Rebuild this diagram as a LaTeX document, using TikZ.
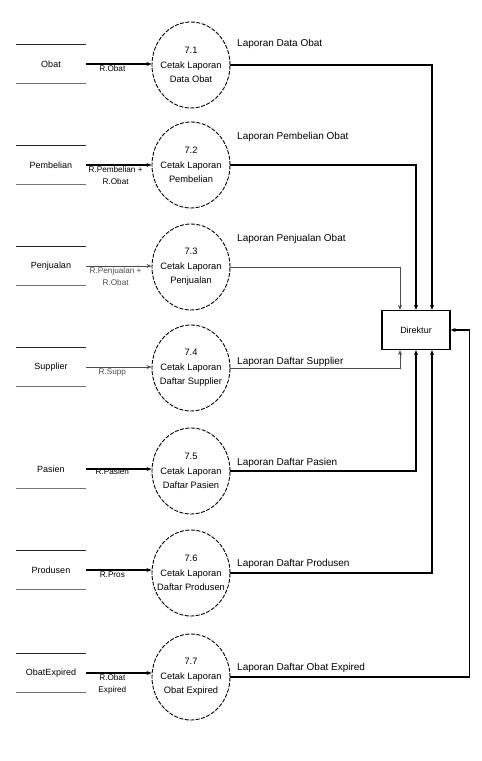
\documentclass[tikz,border=0pt]{standalone}
\usepackage{fontspec}
\setmainfont{Liberation Sans}
\usetikzlibrary{shapes.geometric,arrows.meta}

\tikzset{
  proc/.style={ellipse, draw, line width=0.9pt, dash pattern=on 4pt off 1.5pt,
    minimum width=78pt, minimum height=86pt, inner xsep=-15pt, inner ysep=0pt,
    align=center, font=\fontsize{9.3}{14.5}\selectfont},
  store/.style={minimum width=70pt, minimum height=38pt, inner sep=0pt,
    font=\fontsize{9}{10}\selectfont},
  storetop/.style={line width=1.3pt, black!85},
  storebot/.style={line width=1.1pt, black!55},
  ent/.style={draw, line width=1.3pt, minimum width=68pt, minimum height=39pt,
    font=\fontsize{9}{10}\selectfont},
  flow/.style={line width=1.3pt, -{Stealth[length=5pt,width=4pt]}},
  thinflow/.style={line width=0.7pt, black!70, -{Stealth[length=5pt,width=4pt]}},
  inlbl/.style={font=\fontsize{8.2}{12}\selectfont, align=center, inner sep=1pt},
  outlbl/.style={font=\fontsize{10}{11}\selectfont, anchor=west, inner sep=0pt},
}

\begin{document}
\begin{tikzpicture}[x=1pt,y=-1pt]
\useasboundingbox (0,0) rectangle (482,761);

% data stores
\node[store] (s1) at (51,64)  {Obat};
\node[store] (s2) at (51,165) {Pembelian};
\node[store] (s3) at (51,266) {Penjualan};
\node[store] (s4) at (51,367) {Supplier};
\node[store] (s5) at (51,469) {Pasien};
\node[store] (s6) at (51,570) {Produsen};
\node[store] (s7) at (51,673) {ObatExpired};
\foreach \s in {s1,s2,s3,s4,s6,s7}
  \draw[storetop] (\s.north west) -- (\s.north east);
\foreach \s in {s1,s2,s3,s4,s5,s6,s7}
  \draw[storebot] (\s.south west) -- (\s.south east);

% processes
\node[proc] (p1) at (191,65)  {7.1\\Cetak Laporan\\Data Obat};
\node[proc] (p2) at (191,165) {7.2\\Cetak Laporan\\Pembelian};
\node[proc] (p3) at (191,267) {7.3\\Cetak Laporan\\Penjualan};
\node[proc] (p4) at (191,368) {7.4\\Cetak Laporan\\Daftar Supplier};
\node[proc] (p5) at (191,471) {7.5\\Cetak Laporan\\Daftar Pasien};
\node[proc] (p6) at (191,573) {7.6\\Cetak Laporan\\Daftar Produsen};
\node[proc] (p7) at (191,677) {7.7\\Cetak Laporan\\Obat Expired};

% external entity
\node[ent] (d) at (416,330) {Direktur};

% store -> process
\draw[flow] (s1.east) -- (s1.east -| p1.west)
  node[inlbl, pos=0.4, below] {R.Obat};
\draw[flow] (s2.east) -- (s2.east -| p2.west)
  node[inlbl, pos=0.45, below] {R.Pembelian +\\R.Obat};
\draw[thinflow] (s3.east) -- (s3.east -| p3.west)
  node[inlbl, pos=0.45, below] {R.Penjualan +\\R.Obat};
\draw[thinflow] (s4.east) -- (s4.east -| p4.west)
  node[inlbl, pos=0.4, below] {R.Supp};
\draw[flow] (s5.east) -- (s5.east -| p5.west)
  node[inlbl, pos=0.4, below, yshift=2pt] {R.Pasien};
\draw[flow] (s6.east) -- (s6.east -| p6.west)
  node[inlbl, pos=0.4, below] {R.Pros};
\draw[flow] (s7.east) -- (s7.east -| p7.west)
  node[inlbl, pos=0.4, below] {R.Obat\\Expired};

% process -> Direktur
\draw[flow] (p1.east) -| ([xshift=16pt]d.north);
\draw[flow] (p2.east) -| (d.north);
\draw[thinflow] (p3.east) -| ([xshift=-16pt]d.north);
\draw[thinflow] (p4.east) -| ([xshift=-16pt]d.south);
\draw[flow] (p5.east) -| (d.south);
\draw[flow] (p6.east) -| ([xshift=16pt]d.south);
\coordinate (k7) at ([xshift=19pt]d.east);
\draw[flow] (p7.east) -| (k7) -- (d.east);

% report labels
\node[outlbl] (o1) at (237,44)  {Laporan Data Obat};
\node[outlbl] (o2) at (237,137) {Laporan Pembelian Obat};
\node[outlbl] (o3) at (237,239) {Laporan Penjualan Obat};
\node[outlbl] (o4) at (237,362) {Laporan Daftar Supplier};
\node[outlbl] (o5) at (237,463) {Laporan Daftar Pasien};
\node[outlbl] (o6) at (237,564) {Laporan Daftar Produsen};
\node[outlbl] (o7) at (237,668) {Laporan Daftar Obat Expired};
\end{tikzpicture}
\end{document}
